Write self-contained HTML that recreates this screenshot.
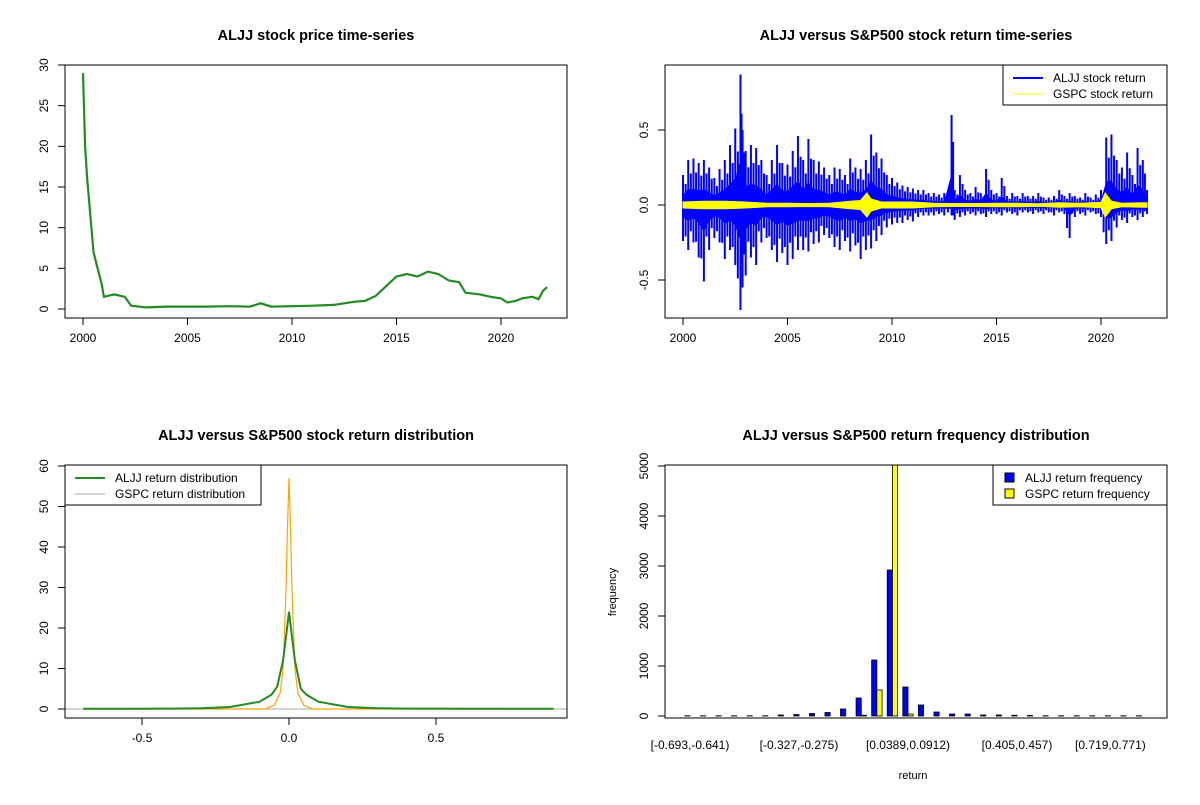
<!DOCTYPE html>
<html><head><meta charset="utf-8"><style>
body{margin:0;background:#fff}
svg{font-family:"Liberation Sans",Arial,sans-serif}
</style></head><body>
<svg id="c" width="1200" height="800" viewBox="0 0 1200 800">
<rect width="1200" height="800" fill="#fff"/>
</svg>
<script>
// ---- data ----
const priceYears=[2000.0,2000.1,2000.2,2000.3,2000.5,2000.7,2000.9,2001.0,2001.5,2002.0,2002.3,2003.0,2004.0,2005.0,2006.0,2007.0,2008.0,2008.5,2009.0,2010.0,2011.0,2012.0,2013.0,2013.5,2014.0,2014.5,2015.0,2015.5,2016.0,2016.5,2017.0,2017.5,2018.0,2018.3,2019.0,2019.5,2020.0,2020.3,2020.7,2021.0,2021.5,2021.8,2022.0,2022.2];
const priceVals=[29,20,16,13,7,5,3,1.5,1.8,1.5,0.4,0.2,0.3,0.3,0.3,0.35,0.3,0.7,0.3,0.35,0.4,0.5,0.9,1.0,1.6,2.8,4.0,4.3,4.0,4.6,4.3,3.5,3.3,2.0,1.8,1.5,1.3,0.8,1.0,1.3,1.5,1.2,2.2,2.7];
const retYears=[2000,2000.25,2000.5,2000.75,2001,2001.25,2001.5,2001.75,2002,2002.25,2002.5,2002.75,2002.85,2003,2003.25,2003.5,2003.75,2004,2004.25,2004.5,2004.75,2005,2005.25,2005.5,2005.75,2006,2006.25,2006.5,2006.75,2007,2007.25,2007.5,2007.75,2008,2008.25,2008.5,2008.75,2009,2009.25,2009.5,2009.75,2010,2010.25,2010.5,2010.75,2011,2011.25,2011.5,2011.75,2012,2012.25,2012.5,2012.85,2013,2013.25,2013.5,2013.75,2014,2014.25,2014.5,2014.75,2015,2015.25,2015.5,2015.75,2016,2016.25,2016.5,2016.75,2017,2017.25,2017.5,2017.75,2018,2018.25,2018.5,2018.75,2019,2019.25,2019.5,2019.75,2020,2020.25,2020.5,2020.75,2021,2021.25,2021.5,2021.75,2022,2022.2];
const retHi=[0.2,0.3,0.31,0.28,0.3,0.25,0.18,0.24,0.3,0.4,0.51,0.87,0.5,0.36,0.4,0.38,0.3,0.2,0.3,0.4,0.28,0.27,0.36,0.46,0.3,0.44,0.3,0.29,0.25,0.2,0.25,0.24,0.2,0.31,0.25,0.24,0.3,0.47,0.35,0.31,0.2,0.18,0.15,0.13,0.12,0.11,0.1,0.1,0.08,0.08,0.07,0.08,0.6,0.1,0.2,0.1,0.08,0.12,0.08,0.24,0.1,0.08,0.18,0.06,0.08,0.06,0.08,0.06,0.06,0.08,0.05,0.05,0.06,0.1,0.06,0.08,0.06,0.05,0.08,0.05,0.07,0.1,0.45,0.47,0.3,0.25,0.35,0.2,0.38,0.3,0.1];
const retLo=[-0.24,-0.3,-0.25,-0.35,-0.51,-0.3,-0.22,-0.25,-0.36,-0.3,-0.4,-0.7,-0.55,-0.47,-0.35,-0.4,-0.25,-0.22,-0.3,-0.38,-0.32,-0.4,-0.36,-0.3,-0.3,-0.31,-0.26,-0.25,-0.2,-0.22,-0.28,-0.3,-0.24,-0.31,-0.27,-0.36,-0.3,-0.29,-0.24,-0.2,-0.15,-0.13,-0.12,-0.12,-0.1,-0.11,-0.08,-0.07,-0.07,-0.07,-0.06,-0.07,-0.07,-0.1,-0.08,-0.07,-0.06,-0.07,-0.06,-0.08,-0.06,-0.06,-0.07,-0.05,-0.06,-0.07,-0.05,-0.05,-0.06,-0.05,-0.06,-0.05,-0.07,-0.05,-0.06,-0.22,-0.08,-0.06,-0.07,-0.05,-0.06,-0.08,-0.26,-0.24,-0.15,-0.1,-0.12,-0.08,-0.1,-0.08,-0.06];
const spYears=[2000,2001,2002,2003,2004,2005,2006,2007,2008,2008.5,2008.8,2009,2009.5,2010,2011,2012,2013,2014,2015,2016,2017,2018,2019,2020,2020.2,2020.5,2021,2022,2022.2];
const spAmp=[0.02,0.025,0.025,0.02,0.012,0.012,0.01,0.012,0.025,0.03,0.08,0.04,0.02,0.02,0.02,0.012,0.01,0.01,0.012,0.012,0.008,0.015,0.012,0.018,0.08,0.025,0.012,0.015,0.015];
const densX=[-0.7,-0.4,-0.3,-0.2,-0.1,-0.06,-0.04,-0.02,-0.01,0,0.01,0.02,0.04,0.06,0.1,0.2,0.3,0.4,0.9];
const densALJJ=[0.05,0.1,0.2,0.5,1.8,3.5,5.5,12,18,24,18,12,5,3.5,1.8,0.5,0.2,0.1,0.05];
const densGX=[-0.7,-0.08,-0.05,-0.03,-0.02,-0.01,-0.005,0,0.005,0.01,0.02,0.03,0.05,0.08,0.9];
const densGSPC=[0,0,1,4,10,30,45,57,45,30,10,4,1,0,0];
const binLabels=["[-0.693,-0.641)","[-0.327,-0.275)","[0.0389,0.0912)","[0.405,0.457)","[0.719,0.771)"];
const binLabelIdx=[0,7,14,21,27];
const freqALJJ=[5,5,5,5,5,5,20,30,50,70,140,360,1120,2920,580,220,80,40,40,20,20,15,10,5,5,5,5,5,5,5];
const freqGSPC=[0,0,0,0,0,0,0,0,0,0,0,15,520,5400,40,0,0,0,0,0,0,0,0,0,0,0,0,0,0,0];

const NS="http://www.w3.org/2000/svg",svg=document.getElementById('c');
function mk(tag,at,parent){const e=document.createElementNS(NS,tag);for(const k in at)e.setAttribute(k,at[k]);(parent||svg).appendChild(e);return e;}
function txt(x,y,s,at,parent){const e=mk('text',Object.assign({x:x,y:y,'font-size':12,fill:'#000','text-anchor':'middle'},at),parent);e.textContent=s;return e;}
function lin(a,b,c,d){return{x:v=>c+(v-a)*(d-c)/(b-a)};}
function panel(name,x0,y0,x1,y1,title){
 const g=mk('g',{});
 
 
 const t=txt((x0+x1)/2,y0-25,title,{'font-size':14.5,'font-weight':'bold'},g);
 
 
 const cp=mk('clipPath',{id:'cp'+name},g);mk('rect',{x:x0,y:y0,width:x1-x0,height:y1-y0},cp);
 return g;}
function box(g,x0,y0,x1,y1){const r=mk('rect',{x:x0,y:y0,width:x1-x0,height:y1-y0,fill:'none',stroke:'#000','stroke-width':1},g);}
function xaxis(g,ticks,fx,y1){const a=mk('g',{},g);
 ticks.forEach(t=>{const X=fx(t.v);mk('line',{x1:X,x2:X,y1:y1,y2:y1+7,stroke:'#000'},a);txt(X,y1+24,t.s,{},a);});
 mk('line',{x1:fx(ticks[0].v),x2:fx(ticks[ticks.length-1].v),y1:y1,y2:y1,stroke:'#000'},a);}
function yaxis(g,ticks,fy,x0){const a=mk('g',{},g);
 ticks.forEach(t=>{const Y=fy(t.v);mk('line',{x1:x0-7,x2:x0,y1:Y,y2:Y,stroke:'#000'},a);txt(x0-20,Y,t.s,{transform:`rotate(-90 ${x0-20} ${Y})`,'dominant-baseline':'middle'},a);});
 mk('line',{x1:x0,x2:x0,y1:fy(ticks[0].v),y2:fy(ticks[ticks.length-1].v),stroke:'#000'},a);}
function legend(g,x,y,w,items,kind){const l=mk('g',{},g);
 mk('rect',{x:x,y:y,width:w,height:8+items.length*16,fill:'#fff',stroke:'#000'},l);
 items.forEach((it,i)=>{const yy=y+13+i*16;const e=mk('g',{},l);
  if(kind==='line')mk('line',{x1:x+10,x2:x+40,y1:yy,y2:yy,stroke:it.c,'stroke-width':it.w},e);
  else mk('rect',{x:x+12,y:yy-5,width:9,height:9,fill:it.c,stroke:'#000'},e);
  txt(kind==='line'?x+50:x+32,yy+4,it.s,{'text-anchor':'start'},e);});}

// ---- panel 1 ----
(function(){const x0=65,x1=567,y0=65,y1=318;const g=panel('price-panel',x0,y0,x1,y1,'ALJJ stock price time-series');
 const fx=lin(2000,2020,83,501).x, fy=lin(0,30,309,65).x;
 let d='';priceYears.forEach((v,i)=>{d+=(i?'L':'M')+fx(v).toFixed(1)+','+fy(priceVals[i]).toFixed(1);});
 const p=mk('path',{d:d,fill:'none',stroke:'#228B22','stroke-width':2.2},g);
 box(g,x0,y0,x1,y1);
 xaxis(g,[2000,2005,2010,2015,2020].map(v=>({v:v,s:''+v})),fx,y1);
 yaxis(g,[0,5,10,15,20,25,30].map(v=>({v:v,s:''+v})),fy,x0);})();

// ---- panel 2 ----
(function(){const x0=665,x1=1167,y0=65,y1=318;const g=panel('return-panel',x0,y0,x1,y1,'ALJJ versus S&P500 stock return time-series');
 const fx=lin(2000,2020,683,1101).x, fy=lin(0,0.5,205,130).x;
 const s=mk('g',{'clip-path':'url(#cpreturn-panel)'},g);
 let d='M'+fx(retYears[0])+','+fy(0);
 retYears.forEach((v,i)=>{d+='L'+fx(v).toFixed(1)+','+fy(retHi[i]*0.35).toFixed(1);});
 for(let i=retYears.length-1;i>=0;i--)d+='L'+fx(retYears[i]).toFixed(1)+','+fy(retLo[i]*0.35).toFixed(1);
 mk('path',{d:d+'Z',fill:'#0000FF'},s);
 retYears.forEach((v,i)=>{const X=fx(v);mk('line',{x1:X,x2:X,y1:fy(retHi[i]),y2:fy(retLo[i]),stroke:'#0000FF','stroke-width':2},s);
  if(i<retYears.length-1){const X2=(X+fx(retYears[i+1]))/2;mk('line',{x1:X2,x2:X2,y1:fy(retHi[i]*0.7),y2:fy(retLo[i+1]*0.7),stroke:'#0000FF','stroke-width':2},s);}});
 const y=mk('g',{},g);
 let d2='';spYears.forEach((v,i)=>{d2+=(i?'L':'M')+fx(v).toFixed(1)+','+fy(spAmp[i]).toFixed(1);});
 for(let i=spYears.length-1;i>=0;i--)d2+='L'+fx(spYears[i]).toFixed(1)+','+fy(-spAmp[i]).toFixed(1);
 mk('path',{d:d2+'Z',fill:'#FFFF00',stroke:'#FFFF00','stroke-width':1},y);
 box(g,x0,y0,x1,y1);
 xaxis(g,[2000,2005,2010,2015,2020].map(v=>({v:v,s:''+v})),fx,y1);
 yaxis(g,[-0.5,0,0.5].map(v=>({v:v,s:v.toFixed(1)})),fy,x0);
 legend(g,1003,65,164,[{c:'#0000FF',w:2,s:'ALJJ stock return'},{c:'#FFFF00',w:1,s:'GSPC stock return'}],'line');})();

// ---- panel 3 ----
(function(){const x0=65,x1=567,y0=465,y1=718;const g=panel('density-panel',x0,y0,x1,y1,'ALJJ versus S&P500 stock return distribution');
 const fx=lin(0,0.5,289,436).x, fy=lin(0,60,709,466).x;
 mk('line',{x1:x0,x2:x1,y1:fy(0),y2:fy(0),stroke:'#aaa'},g);
 let d='';densGX.forEach((v,i)=>{d+=(i?'L':'M')+fx(v).toFixed(1)+','+fy(densGSPC[i]).toFixed(1);});
 const o=mk('path',{d:d,fill:'none',stroke:'#FFA500','stroke-width':1.2},g);
 let d1='';densX.forEach((v,i)=>{d1+=(i?'L':'M')+fx(v).toFixed(1)+','+fy(densALJJ[i]).toFixed(1);});
 const p=mk('path',{d:d1,fill:'none',stroke:'#228B22','stroke-width':2},g);
 box(g,x0,y0,x1,y1);
 xaxis(g,[-0.5,0,0.5].map(v=>({v:v,s:v.toFixed(1)})),fx,y1);
 yaxis(g,[0,10,20,30,40,50,60].map(v=>({v:v,s:''+v})),fy,x0);
 legend(g,65,465,196,[{c:'#228B22',w:2,s:'ALJJ return distribution'},{c:'#aaa',w:1,s:'GSPC return distribution'}],'line');})();

// ---- panel 4 ----
(function(){const x0=665,x1=1167,y0=465,y1=718;const g=panel('histogram-panel',x0,y0,x1,y1,'ALJJ versus S&P500 return frequency distribution');
 const fb=lin(0,14,690,908).x, fy=lin(0,5000,716,466).x, bw=5.2;
 const b=mk('g',{'clip-path':'url(#cphistogram-panel)'},g);
 freqALJJ.forEach((v,i)=>{const c=fb(i);
  const r1=mk('rect',{x:c-bw,y:fy(v),width:bw,height:fy(0)-fy(v),fill:'#0000FF',stroke:'#000','stroke-width':0.8},b);
  
  
  const w=freqGSPC[i];
  const r2=mk('rect',{x:c,y:fy(w),width:bw,height:fy(0)-fy(w),fill:'#FFFF00',stroke:'#000','stroke-width':0.8},b);
  
  });
 box(g,x0,y0,x1,y1);
 const a=mk('g',{},g);
 binLabelIdx.forEach((k,i)=>txt(fb(k),749,binLabels[i],{},a));
 yaxis(g,[0,1000,2000,3000,4000,5000].map(v=>({v:v,s:''+v})),fy,x0);
 const xt=txt(913,779,'return',{'font-size':11},g);
 const yt=txt(616,592,'frequency',{'font-size':11,transform:'rotate(-90 616 592)'},g);
 legend(g,993,465,174,[{c:'#0000FF',s:'ALJJ return frequency'},{c:'#FFFF00',s:'GSPC return frequency'}],'box');})();
</script>
</body></html>
